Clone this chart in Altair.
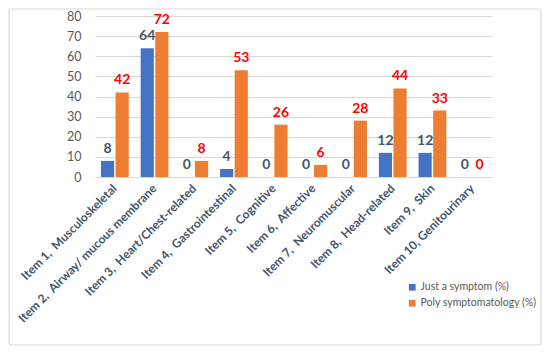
import altair as alt
import pandas as pd

items = [
    "Item 1,\u00a0 Musculoskeletal",
    "Item 2,\u00a0 Airway/ mucous membrane",
    "Item 3,\u00a0 Heart/Chest-related",
    "Item 4,\u00a0 Gastrointestinal",
    "Item 5,\u00a0 Cognitive",
    "Item 6,\u00a0 Affective",
    "Item 7,\u00a0 Neuromuscular",
    "Item 8,\u00a0 Head-related",
    "Item 9,\u00a0 Skin",
    "Item 10, Genitourinary",
]
series = ["Just a symptom  (%)", "Poly symptomatology (%)"]
just_symptom = [8, 64, 0, 4, 0, 0, 0, 12, 12, 0]
poly = [42, 72, 8, 53, 26, 6, 28, 44, 33, 0]

rows = []
for i, it in enumerate(items):
    rows.append({"item": it, "series": series[0], "value": just_symptom[i]})
    rows.append({"item": it, "series": series[1], "value": poly[i]})
df = pd.DataFrame(rows)

FONT = "Lato"
W, H = 397, 161

x = alt.X("item:N", sort=items, title=None,
          scale=alt.Scale(paddingInner=0.3, paddingOuter=0.15),
          axis=alt.Axis(labelAngle=-45, labelAlign="right", labelBaseline="middle",
                        labelFont=FONT, labelFontSize=12, labelFontWeight="bold",
                        labelColor="#44546A", labelPadding=9, ticks=False,
                        domainColor="#D9D9D9", labelLimit=300))
xoff = alt.XOffset("series:N", sort=series, scale=alt.Scale(paddingInner=0.1))
y = alt.Y("value:Q", title=None,
          scale=alt.Scale(domain=[0, 80]),
          axis=alt.Axis(values=list(range(0, 81, 10)), ticks=False, domain=False,
                        labelFont=FONT, labelFontSize=12.5, labelColor="#595959",
                        labelPadding=14, gridColor="#D9D9D9"))

bars = alt.Chart(df).mark_bar().encode(
    x=x, xOffset=xoff, y=y,
    color=alt.Color("series:N", sort=series, title=None,
                    scale=alt.Scale(domain=series, range=["#4472C4", "#ED7D31"]),
                    legend=alt.Legend(orient="none", legendX=312, legendY=266,
                                      symbolType="square", symbolSize=45,
                                      labelFont=FONT, labelFontSize=10.5,
                                      labelColor="#595959", rowPadding=5,
                                      labelOffset=3, labelLimit=300, padding=0,
                                      symbolOffset=0)),
)

text = alt.Chart(df).mark_text(baseline="bottom", dy=-5, font=FONT, fontSize=14,
                               fontWeight="bold").encode(
    x=x, xOffset=xoff, y=y,
    text=alt.Text("value:Q"),
    color=alt.Color("series:N", sort=series, legend=None,
                    scale=alt.Scale(domain=series, range=["#44546A", "#FF0000"])),
)

border = alt.Chart(pd.DataFrame({"a": [0]})).mark_rect(
    fill=None, stroke="#D9D9D9", strokeWidth=1.2, cornerRadius=3
).encode(x=alt.value(-86), x2=alt.value(W + 49), y=alt.value(-7), y2=alt.value(H + 168))

chart = alt.layer(border, bars, text).resolve_scale(color="independent").properties(
    width=W, height=H,
    autosize=alt.AutoSizeParams(type="none"),
    padding={"left": 87, "top": 8, "right": 50, "bottom": 169},
).configure_view(stroke=None)

chart.save("out.html", embed_options={"renderer": "svg", "actions": False})
